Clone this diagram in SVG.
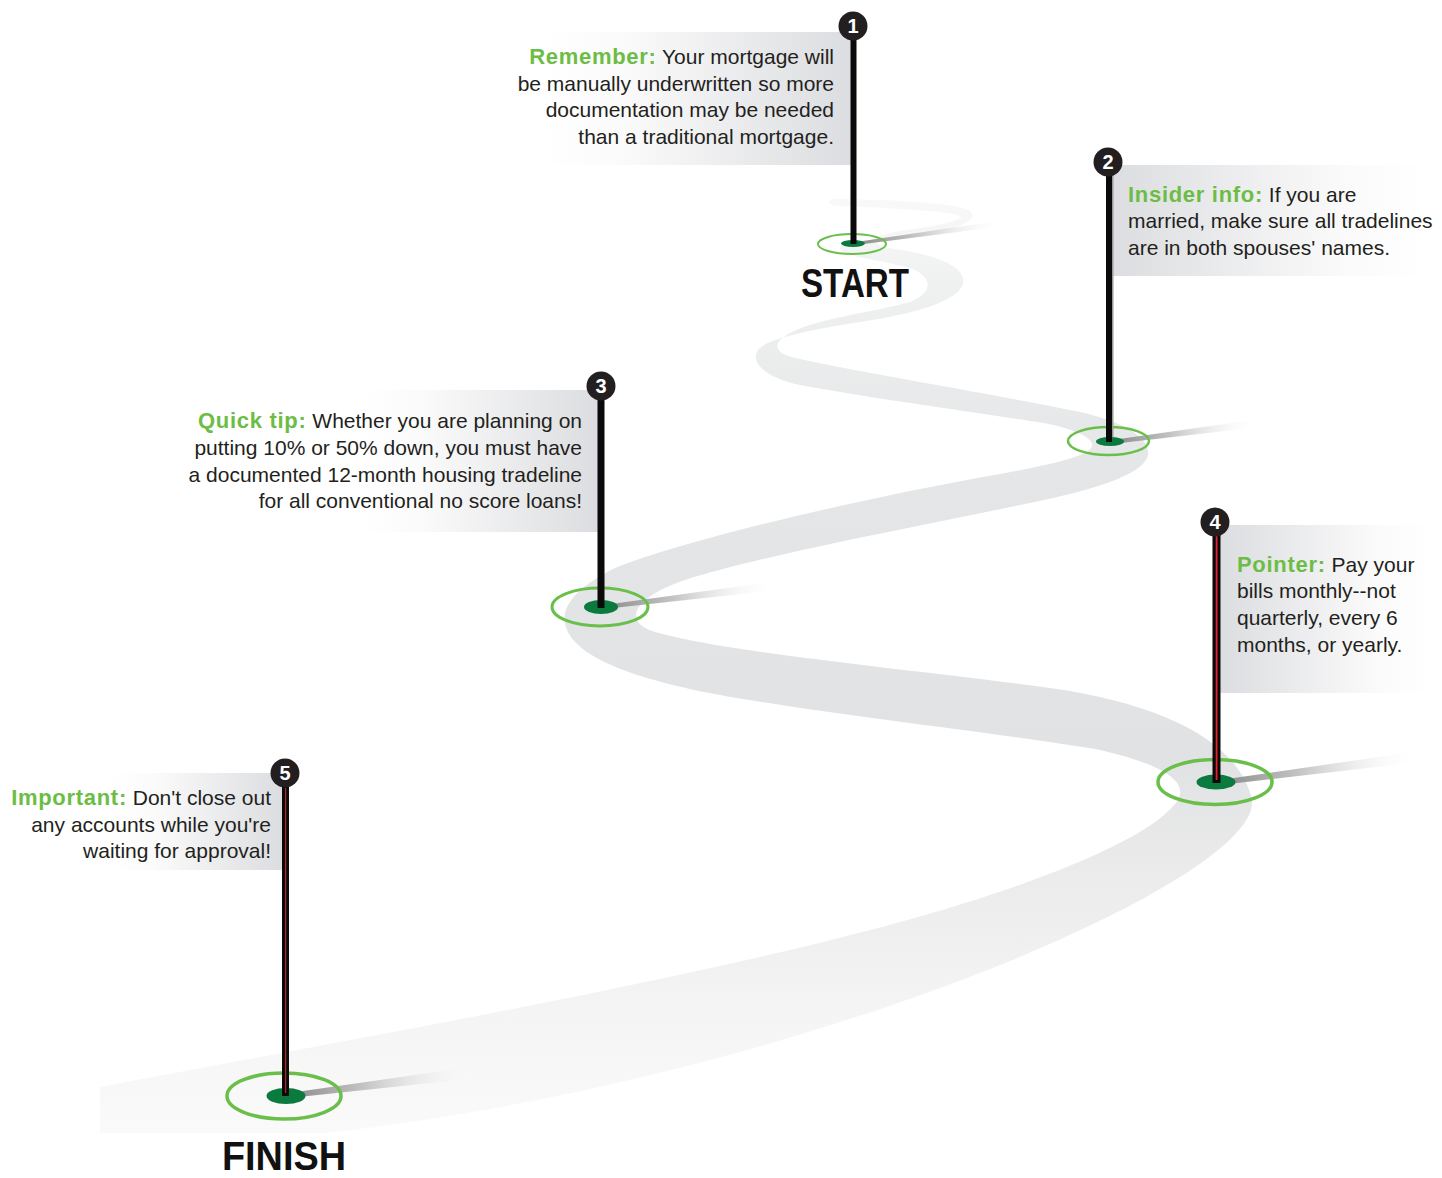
<svg xmlns="http://www.w3.org/2000/svg" width="1442" height="1178" viewBox="0 0 1442 1178">
<style>
  .t { font-family: "Liberation Sans", Arial, sans-serif; font-size: 21px; fill: #231f20; }
  .g { font-weight: bold; fill: #6cbd45; font-size: 22px; letter-spacing: 0.7px; }
  .big { font-family: "Liberation Sans", Arial, sans-serif; font-weight: bold; font-size: 41px; fill: #111111; }
  .num { font-family: "Liberation Sans", Arial, sans-serif; font-weight: bold; font-size: 20px; fill: #ffffff; text-anchor: middle; }
  .badge { fill: #231f20; }
  .ring { fill: none; stroke: #6abf4b; }
  .hole { fill: #0b7a3e; }
  .pole { fill: #0a0a0a; }
  .red { fill: #e2232a; }
</style>
<defs>
  <linearGradient id="roadGrad" gradientUnits="userSpaceOnUse" x1="0" y1="195" x2="0" y2="1135">
    <stop offset="0" stop-color="#f9f9f9"/>
    <stop offset="0.1" stop-color="#eff0f0"/>
    <stop offset="0.28" stop-color="#e5e6e7"/>
    <stop offset="0.6" stop-color="#e1e2e3"/>
    <stop offset="0.72" stop-color="#ebebec"/>
    <stop offset="0.88" stop-color="#f5f5f5"/>
    <stop offset="1" stop-color="#fafafa"/>
  </linearGradient>
  <linearGradient id="panelL" x1="0" y1="0" x2="1" y2="0">
    <stop offset="0" stop-color="#ffffff"/>
    <stop offset="0.25" stop-color="#fbfbfb"/>
    <stop offset="1" stop-color="#dcdde0"/>
  </linearGradient>
  <linearGradient id="panelR" x1="0" y1="0" x2="1" y2="0">
    <stop offset="0" stop-color="#dcdde0"/>
    <stop offset="0.75" stop-color="#fbfbfb"/>
    <stop offset="1" stop-color="#ffffff"/>
  </linearGradient>
  <linearGradient id="shadow" x1="0" y1="0" x2="1" y2="0">
    <stop offset="0" stop-color="#8a8a8a"/>
    <stop offset="0.4" stop-color="#c4c4c4"/>
    <stop offset="1" stop-color="#ffffff" stop-opacity="0"/>
  </linearGradient>
</defs>

<g id="connectors">
  <path id="road" fill="url(#roadGrad)" d="M100,1087 C400,1030 780,965 990,895 C1090,862 1160,828 1178,800 C1188,782 1165,765 1100,750 C1000,733 830,715 720,695 C640,680 580,660 567,630 C558,608 575,588 615,568 C700,535 880,495 1000,474 C1060,463 1090,455 1092,446 C1094,437 1070,428 1044,423 C980,413 870,398 800,385 C765,378 750,362 758,350 C768,338 810,330 860,322 C920,313 958,300 963,284 C967,266 935,254 888,248 C872,245 870,236 900,231 C935,226 958,222 960,217 C960,212 900,208 838,206 C826,205 826,200 836,199 C905,200 968,204 972,213 C976,224 945,232 900,237 C860,241 838,243 840,249 C842,256 880,260 910,268 C932,276 935,292 910,302 C875,312 820,318 792,332 C772,342 773,352 792,357 C835,368 950,386 1080,412 C1130,423 1150,440 1148,455 C1145,472 1105,488 1025,504 C900,530 760,556 685,580 C635,597 622,620 652,631 C720,652 900,668 1050,688 C1170,705 1240,745 1252,800 C1262,880 800,1080 325,1133 L100,1133 Z"/>
</g>

<g id="node1">
  <rect x="540" y="32" width="312" height="133" fill="url(#panelL)"/>
  <text class="t" x="834" y="64" text-anchor="end"><tspan class="g">Remember:</tspan> Your mortgage will</text>
  <text class="t" x="834" y="91" text-anchor="end">be manually underwritten so more</text>
  <text class="t" x="834" y="117" text-anchor="end">documentation may be needed</text>
  <text class="t" x="834" y="144" text-anchor="end">than a traditional mortgage.</text>
  <polygon points="856,242 856,245 1005,226 1005,220" fill="url(#shadow)"/>
  <ellipse class="ring" cx="852" cy="244" rx="34" ry="10" stroke-width="2"/>
  <ellipse class="hole" cx="853" cy="243.5" rx="12" ry="3.5"/>
  <rect class="pole" x="850.5" y="30" width="6" height="214"/>
  <circle class="badge" cx="853" cy="26" r="14.5"/>
  <text class="num" x="853" y="33">1</text>
  <text class="big" x="801" y="297" textLength="108" lengthAdjust="spacingAndGlyphs">START</text>
</g>

<g id="node2">
  <rect x="1112" y="165" width="318" height="111" fill="url(#panelR)"/>
  <text class="t" x="1128" y="202"><tspan class="g">Insider info:</tspan> If you are</text>
  <text class="t" x="1128" y="228">married, make sure all tradelines</text>
  <text class="t" x="1128" y="255">are in both spouses' names.</text>
  <polygon points="1112,440 1112,444 1260,427 1260,419" fill="url(#shadow)"/>
  <ellipse class="ring" cx="1108.5" cy="441" rx="40.5" ry="14" stroke-width="2.5"/>
  <ellipse class="hole" cx="1110" cy="441.5" rx="14" ry="4.5"/>
  <rect class="pole" x="1106" y="165" width="6" height="277"/>
  <rect x="1112" y="175" width="1.5" height="262" fill="#9a9a9a"/>
  <circle class="badge" cx="1108" cy="162" r="14.5"/>
  <text class="num" x="1108" y="169">2</text>
</g>

<g id="node3">
  <rect x="360" y="390" width="238" height="142" fill="url(#panelL)"/>
  <text class="t" x="582" y="428" text-anchor="end"><tspan class="g">Quick tip:</tspan> Whether you are planning on</text>
  <text class="t" x="582" y="455" text-anchor="end">putting 10% or 50% down, you must have</text>
  <text class="t" x="582" y="482" text-anchor="end">a documented 12-month housing tradeline</text>
  <text class="t" x="582" y="508" text-anchor="end">for all conventional no score loans!</text>
  <polygon points="604,605 604,609 778,590 778,581" fill="url(#shadow)"/>
  <ellipse class="ring" cx="600" cy="607" rx="48" ry="19" stroke-width="3"/>
  <ellipse class="hole" cx="601" cy="607" rx="17" ry="7"/>
  <rect class="pole" x="597.5" y="390" width="7" height="218"/>
  <circle class="badge" cx="601" cy="386" r="14.5"/>
  <text class="num" x="601" y="393">3</text>
</g>

<g id="node4">
  <rect x="1220" y="525" width="212" height="168" fill="url(#panelR)"/>
  <text class="t" x="1237" y="572"><tspan class="g">Pointer:</tspan> Pay your</text>
  <text class="t" x="1237" y="598">bills monthly--not</text>
  <text class="t" x="1237" y="625">quarterly, every 6</text>
  <text class="t" x="1237" y="652">months, or yearly.</text>
  <polygon points="1220,780 1220,785 1420,762 1420,751" fill="url(#shadow)"/>
  <ellipse class="ring" cx="1215" cy="782" rx="57" ry="22.5" stroke-width="3.5"/>
  <ellipse class="hole" cx="1216" cy="782" rx="19.5" ry="7.5"/>
  <rect class="pole" x="1212.5" y="526" width="8" height="257"/>
  <rect class="red" x="1215.7" y="536" width="1.8" height="244"/>
  <circle class="badge" cx="1215" cy="522" r="14.5"/>
  <text class="num" x="1215" y="529">4</text>
</g>

<g id="node5">
  <rect x="110" y="773" width="173" height="97" fill="url(#panelL)"/>
  <text class="t" x="271" y="805" text-anchor="end"><tspan class="g">Important:</tspan> Don't close out</text>
  <text class="t" x="271" y="832" text-anchor="end">any accounts while you're</text>
  <text class="t" x="271" y="858" text-anchor="end">waiting for approval!</text>
  <polygon points="289,1093 289,1098 478,1078 478,1066" fill="url(#shadow)"/>
  <ellipse class="ring" cx="284" cy="1096" rx="57" ry="23" stroke-width="3.5"/>
  <ellipse class="hole" cx="286" cy="1096" rx="19.5" ry="8"/>
  <rect class="pole" x="282" y="776" width="7" height="320"/>
  <rect x="285" y="788" width="1.2" height="305" fill="#b3242a"/>
  <circle class="badge" cx="285" cy="773" r="14.5"/>
  <text class="num" x="285" y="780">5</text>
  <text class="big" x="222" y="1170" textLength="124" lengthAdjust="spacingAndGlyphs">FINISH</text>
</g>
</svg>
